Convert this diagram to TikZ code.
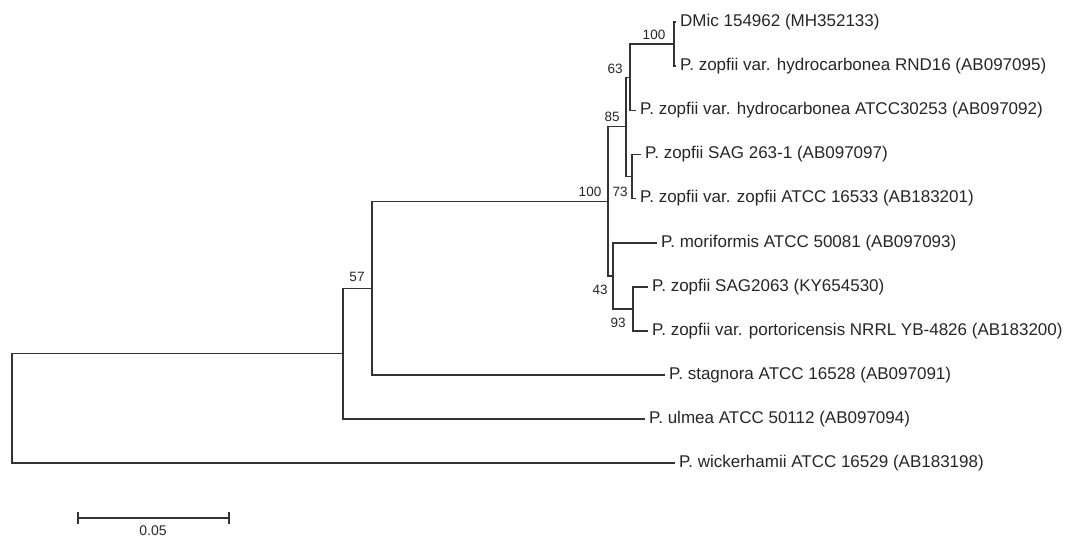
\documentclass[tikz,border=0pt]{standalone}
\usepackage{fontspec}
\setmainfont{Liberation Sans}

\tikzset{
  branch/.style={line width=1.1pt, black!80},
  taxon/.style={anchor=west, inner sep=2pt, xshift=2pt, font=\fontsize{17}{20}\selectfont, text=black!85},
  boot/.style={inner sep=0pt, font=\fontsize{13.5}{15}\selectfont, text=black!85},
}

\begin{document}
\begin{tikzpicture}[x=1pt, y=-1pt]
    \useasboundingbox (0,0) rectangle (1067,537);
    % Tips
    \coordinate (t1) at (676,22);
    \coordinate (t2) at (676,66);
    \coordinate (t3) at (636,110.5);
    \coordinate (t4) at (641,154.5);
    \coordinate (t5) at (636,198.5);
    \coordinate (t6) at (657,243);
    \coordinate (t7) at (648,287);
    \coordinate (t8) at (648,331);
    \coordinate (t9) at (665,375);
    \coordinate (t10) at (645,419);
    \coordinate (t11) at (675,463);
    % Internal nodes
    \coordinate (nA) at (674,44);
    \coordinate (nB) at (630,77.2);
    \coordinate (nC) at (632,176.5);
    \coordinate (nD) at (626,126.9);
    \coordinate (nE) at (633,309);
    \coordinate (nF) at (613,276);
    \coordinate (nG) at (608,201.4);
    \coordinate (nH) at (372,288.2);
    \coordinate (nI) at (343,353.6);
    \coordinate (root) at (12,408.3);
    % Branches
    \draw[branch] (nA) |- (t1);
    \draw[branch] (nA) |- (t2);
    \draw[branch] (nB) |- (nA);
    \draw[branch] (nB) |- (t3);
    \draw[branch] (nC) |- (t4);
    \draw[branch] (nC) |- (t5);
    \draw[branch] (nD) |- (nB);
    \draw[branch] (nD) |- (nC);
    \draw[branch] (nE) |- (t7);
    \draw[branch] (nE) |- (t8);
    \draw[branch] (nF) |- (t6);
    \draw[branch] (nF) |- (nE);
    \draw[branch] (nG) |- (nD);
    \draw[branch] (nG) |- (nF);
    \draw[branch] (nH) |- (nG);
    \draw[branch] (nH) |- (t9);
    \draw[branch] (nI) |- (nH);
    \draw[branch] (nI) |- (t10);
    \draw[branch] (root) |- (nI);
    \draw[branch] (root) |- (t11);
    % Taxa
    \node[taxon] (l1) at (t1) {DMic 154962 (MH352133)};
    \node[taxon] (l2) at (t2) {P. zopfii var. hydrocarbonea RND16 (AB097095)};
    \node[taxon] (l3) at (t3) {P. zopfii var. hydrocarbonea ATCC30253 (AB097092)};
    \node[taxon] (l4) at (t4) {P. zopfii SAG 263-1 (AB097097)};
    \node[taxon] (l5) at (t5) {P. zopfii var. zopfii ATCC 16533 (AB183201)};
    \node[taxon] (l6) at (t6) {P. moriformis ATCC 50081 (AB097093)};
    \node[taxon] (l7) at (t7) {P. zopfii SAG2063 (KY654530)};
    \node[taxon] (l8) at (t8) {P. zopfii var. portoricensis NRRL YB-4826 (AB183200)};
    \node[taxon] (l9) at (t9) {P. stagnora ATCC 16528 (AB097091)};
    \node[taxon] (l10) at (t10) {P. ulmea ATCC 50112 (AB097094)};
    \node[taxon] (l11) at (t11) {P. wickerhamii ATCC 16529 (AB183198)};
    % Bootstrap values
    \node[boot] (bA) at (654,35) {100};
    \node[boot] (bB) at (615,69) {63};
    \node[boot] (bD) at (612,117) {85};
    \node[boot] (bC) at (620,192) {73};
    \node[boot] (bG) at (590,192) {100};
    \node[boot] (bF) at (600,290) {43};
    \node[boot] (bE) at (618,323) {93};
    \node[boot] (bH) at (357,277) {57};
    % Scale bar
    \coordinate (s0) at (78,518);
    \coordinate (s1) at (229,518);
    \draw[branch] (s0) -- (s1);
    \draw[branch] ([yshift=6pt]s0) -- ([yshift=-6pt]s0);
    \draw[branch] ([yshift=6pt]s1) -- ([yshift=-6pt]s1);
    \node[boot, font=\fontsize{14}{15}\selectfont] (sl) at (153,531) {0.05};
\end{tikzpicture}
\end{document}
